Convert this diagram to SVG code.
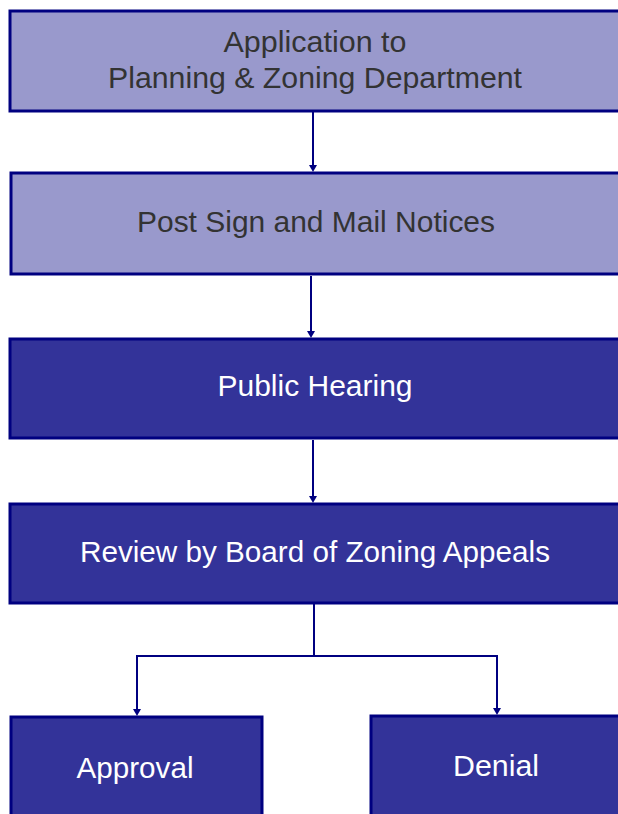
<svg xmlns="http://www.w3.org/2000/svg" width="618" height="814" viewBox="0 0 618 814">
<style>
.box{stroke:#000080;stroke-width:3}
.light{fill:#9999CC}
.dark{fill:#333399}
.t{font-family:"Liberation Sans",Arial,sans-serif;font-size:29px;text-anchor:middle}
.tl{fill:#333333}
.td{fill:#FFFFFF}
.c{fill:none;stroke:#000080;stroke-width:2}
.ah{fill:#000080}
</style>
<g id="connectors">
<line class="c" x1="313" y1="112" x2="313" y2="165"/>
<path class="ah" d="M309,165 L317,165 L313,172 Z"/>
<line class="c" x1="311" y1="276" x2="311" y2="331"/>
<path class="ah" d="M307,331 L315,331 L311,338 Z"/>
<line class="c" x1="313" y1="440" x2="313" y2="496"/>
<path class="ah" d="M309,496 L317,496 L313,503 Z"/>
<path class="c" d="M314,604 V656 H137 V709"/>
<path class="ah" d="M133,709 L141,709 L137,716 Z"/>
<path class="c" d="M314,656 H497 V708"/>
<path class="ah" d="M493,708 L501,708 L497,715 Z"/>
</g>
<g id="node-application">
<rect class="box light" x="10" y="11" width="620" height="100"/>
<text class="t tl" x="315" y="52" textLength="183" lengthAdjust="spacingAndGlyphs">Application to</text>
<text class="t tl" x="315" y="88" textLength="414" lengthAdjust="spacingAndGlyphs">Planning &amp; Zoning Department</text>
</g>
<g id="node-post">
<rect class="box light" x="11" y="173" width="620" height="101"/>
<text class="t tl" x="316" y="232" textLength="358" lengthAdjust="spacingAndGlyphs">Post Sign and Mail Notices</text>
</g>
<g id="node-hearing">
<rect class="box dark" x="10" y="339" width="620" height="99"/>
<text class="t td" x="315" y="396" textLength="195" lengthAdjust="spacingAndGlyphs">Public Hearing</text>
</g>
<g id="node-review">
<rect class="box dark" x="10" y="504" width="620" height="99"/>
<text class="t td" x="315" y="562" textLength="470" lengthAdjust="spacingAndGlyphs">Review by Board of Zoning Appeals</text>
</g>
<g id="node-approval">
<rect class="box dark" x="11" y="717" width="251" height="110"/>
<text class="t td" x="135" y="778" textLength="117" lengthAdjust="spacingAndGlyphs">Approval</text>
</g>
<g id="node-denial">
<rect class="box dark" x="371" y="716" width="260" height="110"/>
<text class="t td" x="496" y="776" textLength="86" lengthAdjust="spacingAndGlyphs">Denial</text>
</g>
</svg>
